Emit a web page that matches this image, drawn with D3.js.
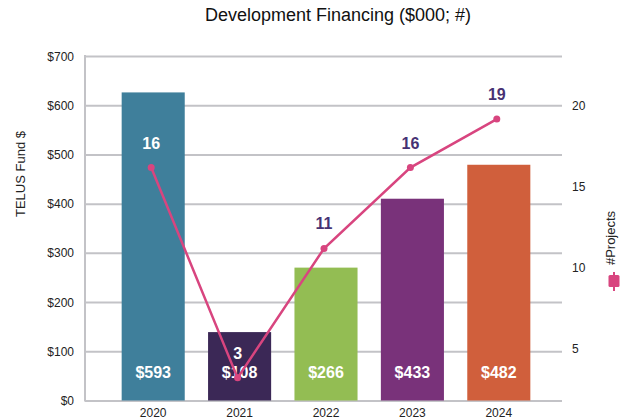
<!DOCTYPE html>
<html>
<head>
<meta charset="utf-8">
<script src="https://cdn.jsdelivr.net/npm/d3@7"></script>
<style>
    body { margin: 0; background: #fff; }
    svg { display: block; font-family: "Liberation Sans", Arial, sans-serif; }
</style>
</head>
<body>
<div id="chart"></div>
<script>
const years = ['2020', '2021', '2022', '2023', '2024'];
// bar heights as drawn in the picture, and the labels printed on them
const fundValues = [626, 139, 270, 410, 479];
const fundLabels = ['$593', '$108', '$266', '$433', '$482'];
const projectCounts = [16, 3, 11, 16, 19];
const fundTicks = [0, 100, 200, 300, 400, 500, 600, 700];
const projectTicks = [5, 10, 15, 20];
const barColors = ['#3f7f9b', '#3b2856', '#93bd53', '#79327a', '#d05f3c'];

const width = 624, height = 420;
const lineColor = '#d8457f';
const labelPurple = '#463274';
const gridColor = '#c3c3c7';

const svg = d3.select('#chart')
    .append('svg')
    .attr('width', width)
    .attr('height', height);

// Scales
const x = d3.scaleBand()
    .domain(years)
    .range([110, 542])
    .paddingInner(0.27)
    .paddingOuter(0.135);

const y = d3.scaleLinear()
    .domain([0, 700])
    .range([400.5, 56]);

const y2 = d3.scaleLinear()
    .domain([1.6, 22.9])
    .range([400.5, 56]);

// Gridlines
svg.append('g')
    .attr('transform', 'translate(85,0)')
    .call(d3.axisLeft(y).tickValues(fundTicks).tickSize(-(562 - 85)).tickFormat(''))
    .call(g => g.select('.domain').remove())
    .selectAll('.tick line')
    .attr('stroke', gridColor)
    .attr('stroke-width', 2);

// Left axis line
svg.append('line')
    .attr('x1', 85).attr('x2', 85)
    .attr('y1', y(700) - 1).attr('y2', y(0) + 1)
    .attr('stroke', gridColor)
    .attr('stroke-width', 2);

// Left tick labels
svg.append('g')
    .selectAll('text')
    .data(fundTicks)
    .enter()
    .append('text')
    .attr('x', 74)
    .attr('y', d => y(d) + 4.5)
    .attr('text-anchor', 'end')
    .style('font-size', '12px')
    .attr('fill', '#222')
    .text(d => `$${d}`);

// Right tick labels (no tick marks)
svg.append('g')
    .selectAll('text')
    .data(projectTicks)
    .enter()
    .append('text')
    .attr('x', 572)
    .attr('y', d => y2(d) + 7)
    .style('font-size', '12px')
    .attr('fill', '#222')
    .text(d => d);

// Bars
svg.selectAll('.bar')
    .data(fundValues)
    .enter()
    .append('rect')
    .attr('class', 'bar')
    .attr('x', (d, i) => x(years[i]))
    .attr('y', d => y(d))
    .attr('width', x.bandwidth())
    .attr('height', d => y(0) - y(d))
    .attr('fill', (d, i) => barColors[i]);

// Bar value labels
svg.selectAll('.bar-label')
    .data(fundLabels)
    .enter()
    .append('text')
    .attr('class', 'bar-label')
    .attr('x', (d, i) => x(years[i]) + x.bandwidth() / 2)
    .attr('y', 377.5)
    .attr('text-anchor', 'middle')
    .style('font-size', '16px')
    .style('font-weight', 'bold')
    .attr('fill', '#fff')
    .text(d => d);

// Year labels
svg.selectAll('.year')
    .data(years)
    .enter()
    .append('text')
    .attr('class', 'year')
    .attr('x', d => x(d) + x.bandwidth() / 2)
    .attr('y', 417)
    .attr('text-anchor', 'middle')
    .style('font-size', '12px')
    .attr('fill', '#222')
    .text(d => d);

// Projects line
const cx = (d, i) => x(years[i]) + x.bandwidth() / 2 - 2;

const line = d3.line()
    .x(cx)
    .y(d => y2(d));

svg.append('path')
    .datum(projectCounts)
    .attr('d', line)
    .attr('fill', 'none')
    .attr('stroke', lineColor)
    .attr('stroke-width', 2.5);

svg.selectAll('.pt')
    .data(projectCounts)
    .enter()
    .append('circle')
    .attr('class', 'pt')
    .attr('cx', cx)
    .attr('cy', d => y2(d))
    .attr('r', 3.5)
    .attr('fill', lineColor);

// Point labels - white when sitting on a bar
svg.selectAll('.pt-label')
    .data(projectCounts)
    .enter()
    .append('text')
    .attr('class', 'pt-label')
    .attr('x', cx)
    .attr('y', d => y2(d) - 19)
    .attr('text-anchor', 'middle')
    .style('font-size', '16px')
    .style('font-weight', 'bold')
    .attr('fill', (d, i) => (y2(d) - 25 > y(fundValues[i]) ? '#fff' : labelPurple))
    .text(d => d);

// Title
svg.append('text')
    .attr('x', 338)
    .attr('y', 21)
    .attr('text-anchor', 'middle')
    .style('font-size', '18px')
    .attr('fill', '#111')
    .text('Development Financing ($000; #)');

// Left axis title
svg.append('text')
    .attr('transform', 'translate(25,174) rotate(-90)')
    .attr('text-anchor', 'middle')
    .style('font-size', '13px')
    .attr('fill', '#222')
    .text('TELUS Fund $');

// Right legend: rotated label + marker
svg.append('text')
    .attr('transform', 'translate(615,238) rotate(-90)')
    .attr('text-anchor', 'middle')
    .style('font-size', '13px')
    .attr('fill', '#222')
    .text('#Projects');

svg.append('line')
    .attr('x1', 614).attr('x2', 614)
    .attr('y1', 272).attr('y2', 291)
    .attr('stroke', lineColor)
    .attr('stroke-width', 2);

svg.append('rect')
    .attr('x', 608.5)
    .attr('y', 275)
    .attr('width', 11)
    .attr('height', 12)
    .attr('rx', 1.5)
    .attr('fill', lineColor);
</script>
</body>
</html>
